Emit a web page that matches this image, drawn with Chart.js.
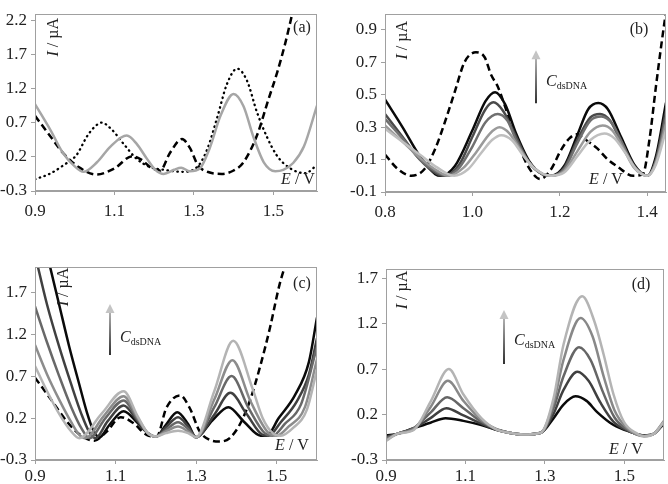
<!DOCTYPE html>
<html lang="en">
<head>
<meta charset="UTF-8">
<title>Voltammograms (a)-(d)</title>
<script src="https://cdn.jsdelivr.net/npm/chart.js"></script>
<style>
  body { margin: 0; background: #fff; }
  .panel { position: absolute; width: 334px; height: 242px; }
</style>
</head>
<body>
<div class="panel" style="left:0;top:0"><canvas id="chartA"></canvas></div>
<div class="panel" style="left:334px;top:0"><canvas id="chartB"></canvas></div>
<div class="panel" style="left:0;top:242px"><canvas id="chartC"></canvas></div>
<div class="panel" style="left:334px;top:242px"><canvas id="chartD"></canvas></div>

<script>
// ---- tick labels ----
const xTicksA = [0.9, 1.1, 1.3, 1.5];
const yTicksA = [-0.3, 0.2, 0.7, 1.2, 1.7, 2.2];
const xTicksB = [0.8, 1.0, 1.2, 1.4];
const yTicksB = [-0.1, 0.1, 0.3, 0.5, 0.7, 0.9];
const xTicksC = [0.9, 1.1, 1.3, 1.5];
const yTicksC = [-0.3, 0.2, 0.7, 1.2, 1.7];
const xTicksD = [0.9, 1.1, 1.3, 1.5];
const yTicksD = [-0.3, 0.2, 0.7, 1.2, 1.7];

// ---- (a) [E / V, I / uA] ----
const aDashed = [[0.90,0.80],[0.94,0.49],[0.97,0.26],[1.01,0.05],[1.055,-0.06],[1.10,0.03],[1.145,0.21],[1.17,0.15],[1.19,0.05],[1.215,0.0],[1.24,0.26],[1.27,0.46],[1.29,0.33],[1.31,0.08],[1.34,-0.03],[1.37,-0.05],[1.40,0.0],[1.425,0.12],[1.46,0.53],[1.485,0.99],[1.51,1.44],[1.53,1.86],[1.55,2.35]];
const aDotted = [[0.90,-0.13],[0.94,-0.04],[0.97,0.07],[1.005,0.23],[1.03,0.49],[1.047,0.62],[1.068,0.70],[1.093,0.60],[1.123,0.39],[1.156,0.17],[1.19,0.05],[1.224,0.01],[1.27,-0.02],[1.308,0.05],[1.333,0.30],[1.358,0.76],[1.383,1.26],[1.409,1.49],[1.434,1.31],[1.459,0.85],[1.484,0.49],[1.51,0.21],[1.543,0.03],[1.58,-0.04],[1.61,0.08]];
const aGray = [[0.90,0.97],[0.94,0.58],[0.97,0.26],[1.00,0.06],[1.022,-0.02],[1.056,0.12],[1.09,0.35],[1.131,0.51],[1.156,0.39],[1.182,0.17],[1.203,0.01],[1.224,-0.05],[1.25,0.01],[1.268,0.04],[1.29,-0.01],[1.315,0.03],[1.34,0.33],[1.367,0.80],[1.40,1.12],[1.425,0.94],[1.45,0.49],[1.476,0.12],[1.505,-0.01],[1.525,0.01],[1.55,0.11],[1.577,0.35],[1.61,0.95]];

// ---- (b) ----
const bDashed = [[0.80,0.13],[0.83,0.04],[0.86,0.0],[0.89,0.04],[0.914,0.16],[0.937,0.33],[0.96,0.52],[0.982,0.70],[1.008,0.76],[1.028,0.73],[1.043,0.62],[1.058,0.55],[1.073,0.44],[1.088,0.32],[1.104,0.20],[1.127,0.06],[1.155,-0.02],[1.18,0.04],[1.203,0.16],[1.222,0.23],[1.239,0.255],[1.26,0.22],[1.285,0.17],[1.31,0.10],[1.33,0.06],[1.368,0.0],[1.39,0.01],[1.405,0.22],[1.42,0.55],[1.432,0.80],[1.445,1.05]];
const bC1 = [[0.80,0.47],[0.84,0.30],[0.88,0.12],[0.915,0.01],[0.928,0.0],[0.96,0.06],[1.00,0.28],[1.03,0.46],[1.052,0.515],[1.075,0.44],[1.10,0.26],[1.13,0.09],[1.16,0.01],[1.18,0.0],[1.21,0.06],[1.24,0.25],[1.265,0.41],[1.288,0.448],[1.31,0.41],[1.34,0.24],[1.37,0.07],[1.40,0.0],[1.42,0.12],[1.443,0.45]];
const bC2 = [[0.80,0.38],[0.84,0.24],[0.88,0.10],[0.92,0.01],[0.935,0.0],[0.97,0.07],[1.00,0.24],[1.03,0.41],[1.048,0.452],[1.07,0.40],[1.10,0.24],[1.13,0.08],[1.16,0.01],[1.18,0.0],[1.21,0.05],[1.24,0.22],[1.27,0.36],[1.292,0.381],[1.315,0.34],[1.34,0.21],[1.37,0.06],[1.40,0.0],[1.42,0.10],[1.443,0.40]];
const bC3 = [[0.80,0.35],[0.84,0.23],[0.88,0.10],[0.92,0.02],[0.94,0.0],[0.97,0.05],[1.00,0.18],[1.03,0.33],[1.058,0.381],[1.08,0.34],[1.10,0.22],[1.13,0.08],[1.16,0.01],[1.18,0.0],[1.21,0.04],[1.24,0.20],[1.27,0.34],[1.295,0.365],[1.32,0.32],[1.345,0.19],[1.37,0.06],[1.40,0.0],[1.42,0.09],[1.443,0.36]];
const bC4 = [[0.80,0.31],[0.84,0.21],[0.88,0.11],[0.92,0.03],[0.945,0.0],[0.98,0.05],[1.01,0.15],[1.04,0.26],[1.062,0.298],[1.085,0.26],[1.11,0.16],[1.14,0.05],[1.18,0.0],[1.21,0.03],[1.24,0.15],[1.27,0.27],[1.298,0.31],[1.32,0.28],[1.345,0.17],[1.37,0.05],[1.40,0.0],[1.42,0.08],[1.443,0.32]];
const bC5 = [[0.80,0.29],[0.84,0.21],[0.88,0.13],[0.92,0.05],[0.958,0.0],[0.99,0.04],[1.02,0.14],[1.045,0.22],[1.066,0.25],[1.09,0.22],[1.115,0.13],[1.14,0.05],[1.18,0.0],[1.21,0.02],[1.24,0.12],[1.27,0.22],[1.302,0.26],[1.325,0.23],[1.35,0.14],[1.375,0.04],[1.40,0.0],[1.42,0.07],[1.443,0.28]];

// ---- (c) ----
const cDashed = [[0.90,0.68],[0.937,0.44],[0.979,0.16],[1.012,0.0],[1.047,-0.07],[1.078,0.04],[1.113,0.21],[1.144,0.14],[1.177,0.0],[1.202,-0.02],[1.226,0.32],[1.26,0.47],[1.284,0.32],[1.309,0.04],[1.334,-0.06],[1.359,-0.08],[1.383,-0.04],[1.408,0.12],[1.433,0.40],[1.458,0.80],[1.483,1.27],[1.507,1.79],[1.53,2.15]];
const cC1 = [[0.925,2.25],[0.96,1.55],[0.985,1.05],[1.01,0.60],[1.03,0.25],[1.045,0.05],[1.06,-0.03],[1.085,0.12],[1.12,0.28],[1.155,0.14],[1.18,0.02],[1.20,-0.02],[1.225,0.12],[1.253,0.27],[1.28,0.13],[1.30,-0.03],[1.34,0.17],[1.38,0.33],[1.42,0.15],[1.46,-0.01],[1.475,-0.01],[1.505,0.20],[1.545,0.47],[1.58,0.87],[1.60,1.40]];
const cC2 = [[0.90,2.15],[0.93,1.55],[0.96,1.05],[0.99,0.60],[1.015,0.25],[1.035,0.03],[1.05,-0.04],[1.08,0.16],[1.12,0.35],[1.155,0.16],[1.18,0.02],[1.20,-0.02],[1.225,0.09],[1.255,0.21],[1.28,0.10],[1.30,-0.03],[1.345,0.24],[1.385,0.50],[1.425,0.25],[1.465,0.0],[1.48,-0.01],[1.51,0.15],[1.55,0.40],[1.58,0.72],[1.60,1.15]];
const cC3 = [[0.90,1.53],[0.93,1.10],[0.96,0.70],[0.99,0.33],[1.015,0.08],[1.035,-0.04],[1.075,0.20],[1.12,0.41],[1.155,0.18],[1.18,0.02],[1.20,-0.02],[1.225,0.06],[1.255,0.15],[1.28,0.07],[1.30,-0.03],[1.345,0.33],[1.388,0.70],[1.43,0.32],[1.47,0.02],[1.49,-0.01],[1.52,0.13],[1.56,0.36],[1.60,1.05]];
const cC4 = [[0.90,1.07],[0.93,0.72],[0.96,0.42],[0.99,0.15],[1.01,0.0],[1.025,-0.04],[1.07,0.22],[1.12,0.46],[1.155,0.20],[1.18,0.02],[1.20,-0.02],[1.225,0.04],[1.255,0.10],[1.28,0.04],[1.30,-0.03],[1.345,0.42],[1.39,0.89],[1.435,0.40],[1.48,0.02],[1.50,-0.01],[1.53,0.10],[1.57,0.33],[1.60,0.90]];
const cC5 = [[0.90,0.82],[0.93,0.52],[0.96,0.25],[0.99,0.04],[1.01,-0.04],[1.065,0.25],[1.12,0.52],[1.155,0.22],[1.18,0.02],[1.20,-0.02],[1.225,0.02],[1.255,0.05],[1.28,0.02],[1.30,-0.03],[1.345,0.52],[1.392,1.12],[1.44,0.55],[1.465,0.20],[1.49,0.02],[1.51,-0.01],[1.54,0.08],[1.575,0.30],[1.60,0.78]];

// ---- (d) ----
const dC1 = [[0.90,-0.03],[0.93,-0.01],[0.97,0.05],[1.012,0.11],[1.05,0.16],[1.095,0.13],[1.14,0.085],[1.18,0.03],[1.21,0.0],[1.245,-0.02],[1.29,0.0],[1.322,0.16],[1.347,0.31],[1.377,0.40],[1.405,0.35],[1.431,0.23],[1.473,0.085],[1.515,0.01],[1.55,-0.03],[1.575,-0.01],[1.60,0.10]];
const dC2 = [[0.90,-0.05],[0.93,-0.01],[0.97,0.05],[1.012,0.16],[1.052,0.27],[1.095,0.19],[1.14,0.10],[1.18,0.03],[1.21,0.0],[1.245,-0.02],[1.29,0.0],[1.322,0.21],[1.347,0.47],[1.382,0.67],[1.41,0.57],[1.44,0.33],[1.473,0.12],[1.51,0.02],[1.55,-0.03],[1.575,-0.01],[1.60,0.11]];
const dC3 = [[0.90,-0.06],[0.93,-0.01],[0.97,0.05],[1.012,0.22],[1.054,0.39],[1.095,0.27],[1.14,0.12],[1.18,0.035],[1.21,0.0],[1.245,-0.02],[1.29,0.0],[1.322,0.27],[1.347,0.62],[1.386,0.94],[1.415,0.80],[1.445,0.46],[1.475,0.17],[1.505,0.04],[1.55,-0.035],[1.575,-0.01],[1.60,0.12]];
const dC4 = [[0.90,-0.08],[0.93,-0.01],[0.97,0.04],[1.012,0.28],[1.056,0.57],[1.095,0.35],[1.14,0.14],[1.18,0.035],[1.21,0.0],[1.245,-0.02],[1.29,0.0],[1.322,0.33],[1.347,0.80],[1.39,1.26],[1.42,1.06],[1.448,0.62],[1.475,0.25],[1.505,0.06],[1.55,-0.04],[1.575,-0.01],[1.60,0.13]];
const dC5 = [[0.90,-0.09],[0.93,-0.01],[0.97,0.03],[1.012,0.34],[1.058,0.70],[1.095,0.42],[1.14,0.16],[1.18,0.03],[1.21,0.0],[1.245,-0.02],[1.29,0.0],[1.322,0.38],[1.347,0.97],[1.394,1.50],[1.425,1.22],[1.448,0.86],[1.473,0.42],[1.499,0.12],[1.532,-0.01],[1.55,-0.04],[1.575,-0.01],[1.60,0.12]];

const FONT = '"Liberation Serif", "Times New Roman", serif';
const AXIS = '#a0a0a0';
const INK = '#222';
const DASH = [7, 4];
const DOT = [0.5, 4.5];

// draws pieces of text with different fonts on one line
function mixedText(ctx, parts, x, y) {
    let w = 0;
    parts.forEach(p => { ctx.font = p[0]; w += ctx.measureText(p[1]).width; });
    let cx = x - w / 2;
    parts.forEach(p => {
        ctx.font = p[0];
        ctx.fillText(p[1], cx, y + (p[2] || 0));
        cx += ctx.measureText(p[1]).width;
    });
}

// frame round the plot area, axis titles, panel tag and the C(dsDNA) arrow
const panelText = {
    id: 'panelText',
    afterDatasetsDraw(chart, args, o) {
        const ctx = chart.ctx, a = chart.chartArea;
        ctx.save();
        ctx.strokeStyle = AXIS;
        ctx.lineWidth = 1;
        ctx.strokeRect(Math.round(a.left) + 0.5, Math.round(a.top) + 0.5,
            Math.round(a.right - a.left) - 1, Math.round(a.bottom - a.top) - 1);

        ctx.fillStyle = INK;
        ctx.textBaseline = 'middle';
        ctx.textAlign = 'left';
        const it = 'italic 16px ' + FONT, up = '16px ' + FONT;

        ctx.save();
        ctx.translate(a.left + o.yTitle[0], a.top + o.yTitle[1]);
        ctx.rotate(-Math.PI / 2);
        mixedText(ctx, [[it, 'I'], [up, ' / µA']], 0, 0);
        ctx.restore();

        mixedText(ctx, [[it, 'E'], [up, ' / V']], a.right - o.xTitle[0], a.bottom - o.xTitle[1]);
        mixedText(ctx, [[up, o.tag]], a.right - o.tagPos[0], a.top + o.tagPos[1]);

        if (o.arrow) {
            const x = a.left + o.arrow[0], y1 = a.top + o.arrow[1], y2 = a.top + o.arrow[2];
            const g = ctx.createLinearGradient(0, y1, 0, y2);
            g.addColorStop(0, '#c8c8c8');
            g.addColorStop(1, '#303030');
            ctx.strokeStyle = g;
            ctx.lineWidth = 2;
            ctx.beginPath();
            ctx.moveTo(x, y1 + 8);
            ctx.lineTo(x, y2);
            ctx.stroke();
            ctx.fillStyle = '#c4c4c4';
            ctx.beginPath();
            ctx.moveTo(x, y1);
            ctx.lineTo(x + 4.5, y1 + 9);
            ctx.lineTo(x - 4.5, y1 + 9);
            ctx.closePath();
            ctx.fill();

            ctx.fillStyle = INK;
            ctx.textBaseline = 'alphabetic';
            const cx = a.left + o.cLabel[0], cy = a.top + o.cLabel[1];
            ctx.font = it;
            ctx.fillText('C', cx, cy);
            const w = ctx.measureText('C').width;
            ctx.font = '10px ' + FONT;
            ctx.fillText('dsDNA', cx + w, cy + 3);
        }
        ctx.restore();
    }
};

function makePanel(id, p) {
    new Chart(document.getElementById(id), {
        type: 'line',
        data: {
            datasets: p.series.map(s => ({
                data: s.pts.map(q => ({ x: q[0], y: q[1] })),
                borderColor: s.color,
                borderWidth: s.width || 2.5,
                borderDash: s.dash || [],
                borderCapStyle: s.cap || 'butt',
                pointRadius: 0,
                fill: false,
                cubicInterpolationMode: 'monotone',
                clip: 0
            }))
        },
        options: {
            responsive: true,
            maintainAspectRatio: false,
            animation: false,
            events: [],
            layout: { padding: { top: p.pad[0], right: p.pad[1], bottom: 0, left: 0 } },
            plugins: { legend: { display: false }, tooltip: { enabled: false }, panelText: p.text },
            scales: {
                x: {
                    type: 'linear', min: p.x[0], max: p.x[1],
                    afterBuildTicks: s => { s.ticks = p.xTicks.map(v => ({ value: v })); },
                    afterFit: s => { s.height = p.xH; },
                    grid: { drawOnChartArea: false, tickLength: 4, color: AXIS },
                    border: { color: AXIS },
                    ticks: { autoSkip: false, maxRotation: 0, padding: p.xPad, color: INK,
                             font: { family: FONT, size: 17 }, callback: v => v.toFixed(1) }
                },
                y: {
                    type: 'linear', min: p.y[0], max: p.y[1],
                    afterBuildTicks: s => { s.ticks = p.yTicks.map(v => ({ value: v })); },
                    afterFit: s => { s.width = p.yW; },
                    grid: { drawOnChartArea: false, tickLength: 4, color: AXIS },
                    border: { color: AXIS },
                    ticks: { autoSkip: false, padding: 4, color: INK,
                             font: { family: FONT, size: 17 }, callback: v => v.toFixed(1) }
                }
            }
        },
        plugins: [panelText]
    });
}

makePanel('chartA', {
    x: [0.9, 1.61], y: [-0.3, 2.286], xTicks: xTicksA, yTicks: yTicksA,
    yW: 35, xH: 51, pad: [1, 17], xPad: 6,
    series: [
        { pts: aGray, color: '#a6a6a6' },
        { pts: aDotted, color: '#000', width: 2.3, dash: DOT, cap: 'round' },
        { pts: aDashed, color: '#000', dash: DASH }
    ],
    text: { tag: '(a)', tagPos: [15, 14], yTitle: [19, 23], xTitle: [19, 11] }
});

makePanel('chartB', {
    x: [0.8, 1.443], y: [-0.1, 0.995], xTicks: xTicksB, yTicks: yTicksB,
    yW: 51, xH: 50, pad: [1, 2], xPad: 6,
    series: [
        { pts: bC5, color: '#bfbfbf' },
        { pts: bC4, color: '#9a9a9a' },
        { pts: bC3, color: '#707070' },
        { pts: bC2, color: '#4a4a4a' },
        { pts: bC1, color: '#0a0a0a' },
        { pts: bDashed, color: '#000', dash: DASH }
    ],
    text: { tag: '(b)', tagPos: [27, 16], yTitle: [18, 26], xTitle: [60, 12],
            arrow: [151, 36, 89], cLabel: [161, 72] }
});

makePanel('chartC', {
    x: [0.9, 1.6], y: [-0.3, 2.0], xTicks: xTicksC, yTicks: yTicksC,
    yW: 35, xH: 24, pad: [25, 17], xPad: 2,
    series: [
        { pts: cC5, color: '#b4b4b4' },
        { pts: cC4, color: '#8c8c8c' },
        { pts: cC3, color: '#686868' },
        { pts: cC2, color: '#404040' },
        { pts: cC1, color: '#0a0a0a' },
        { pts: cDashed, color: '#000', dash: DASH }
    ],
    text: { tag: '(c)', tagPos: [15, 17], yTitle: [29, 20], xTitle: [25, 14],
            arrow: [75, 37, 88], cLabel: [85, 75] }
});

makePanel('chartD', {
    x: [0.9, 1.6], y: [-0.3, 1.8], xTicks: xTicksD, yTicks: yTicksD,
    yW: 52, xH: 24, pad: [27, 4], xPad: 2,
    series: [
        { pts: dC5, color: '#b4b4b4' },
        { pts: dC4, color: '#888888' },
        { pts: dC3, color: '#666666' },
        { pts: dC2, color: '#404040' },
        { pts: dC1, color: '#0a0a0a' }
    ],
    text: { tag: '(d)', tagPos: [23, 16], yTitle: [17, 21], xTitle: [38, 10],
            arrow: [118, 41, 95], cLabel: [128, 76] }
});
</script>
</body>
</html>
